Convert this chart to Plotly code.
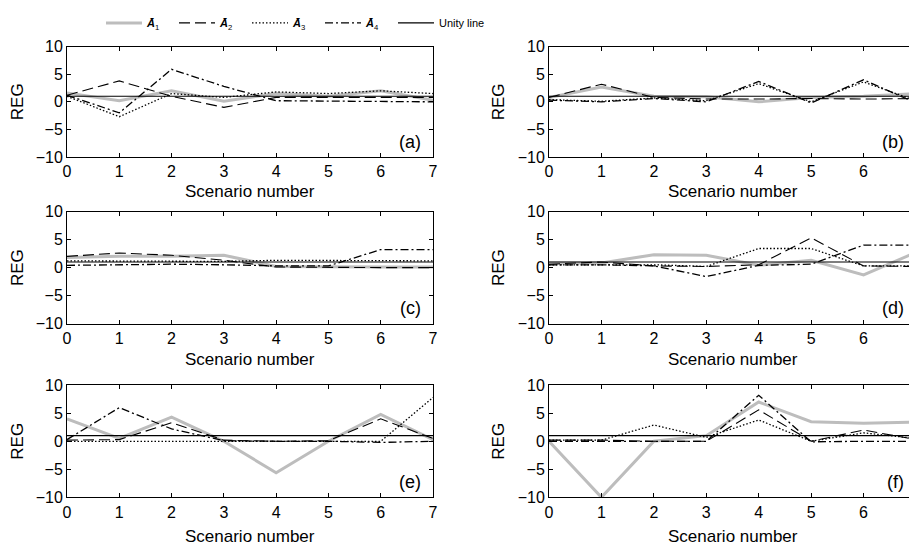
"""
REG per scenario for four estimators (A1..A4) against a unity line,
six panels (a)-(f) laid out 3 rows x 2 columns.
"""

import plotly.graph_objects as go
from plotly.subplots import make_subplots

scenarios = [0, 1, 2, 3, 4, 5, 6, 7]
x_ticks = [0, 1, 2, 3, 4, 5, 6, 7]
y_ticks = [-10, -5, 0, 5, 10]
unity = [1, 1, 1, 1, 1, 1, 1, 1]

panel_labels = ["(a)", "(b)", "(c)", "(d)", "(e)", "(f)"]
x_title = "Scenario number"
y_title = "REG"
series_names = [
    "<b><i>Ā</i></b><sub>1</sub>",
    "<b><i>Ā</i></b><sub>2</sub>",
    "<b><i>Ā</i></b><sub>3</sub>",
    "<b><i>Ā</i></b><sub>4</sub>",
    "Unity line",
]

# values, one list per series per panel
a_A1 = [1.6, 0.2, 2.0, 0.1, 1.5, 1.0, 2.0, 0.3]
a_A2 = [1.2, 3.8, 1.0, -1.0, 0.8, 0.8, 0.9, 0.8]
a_A3 = [1.0, -2.7, 1.5, 0.8, 1.8, 1.5, 2.0, 1.5]
a_A4 = [1.2, -2.0, 5.9, 2.8, 0.2, 0.1, 0.1, 0.0]

b_A1 = [0.8, 2.7, 1.0, 0.9, 0.0, 0.8, 1.0, 1.5]
b_A2 = [0.8, 3.2, 0.8, 0.5, 0.5, 0.6, 0.5, 0.6]
b_A3 = [0.4, 0.1, 0.7, 0.2, 3.3, 0.0, 3.6, 0.2]
b_A4 = [0.3, 0.0, 0.6, 0.0, 3.7, -0.2, 4.0, -0.2]

c_A1 = [1.8, 2.0, 2.0, 2.2, 0.2, 0.1, 0.1, 0.1]
c_A2 = [2.0, 2.6, 2.2, 1.3, 0.1, 0.0, 0.0, 0.0]
c_A3 = [1.2, 1.2, 1.2, 1.1, 1.3, 1.3, 1.3, 1.2]
c_A4 = [0.4, 0.5, 0.6, 0.5, 0.3, 0.3, 3.2, 3.2]

d_A1 = [0.8, 0.8, 2.3, 2.2, 0.4, 1.3, -1.3, 2.7]
d_A2 = [0.6, 1.0, 0.3, 0.2, 0.5, 5.3, 0.3, 0.2]
d_A3 = [0.5, 0.5, 0.5, 0.2, 3.4, 3.4, 0.3, 0.3]
d_A4 = [0.5, 0.5, 0.3, -1.6, 0.4, 0.6, 4.0, 4.0]

e_A1 = [4.0, 0.5, 4.3, 0.0, -5.6, 0.0, 4.8, 0.3]
e_A2 = [0.2, 0.3, 3.3, 0.2, 0.0, 0.1, 4.0, 0.5]
e_A3 = [0.0, 0.0, 0.0, 0.0, 0.0, 0.0, 0.0, 7.8]
e_A4 = [0.3, 6.0, 2.2, 0.1, 0.0, 0.0, -0.2, 0.0]

f_A1 = [0.0, -10.0, 0.0, 1.0, 7.0, 3.5, 3.2, 3.4]
f_A2 = [0.2, 0.2, 0.0, 0.0, 5.6, 0.0, 2.0, 0.3]
f_A3 = [0.2, 0.2, 2.9, 0.7, 3.8, 0.0, 1.5, 0.5]
f_A4 = [0.0, 0.0, 0.0, 0.0, 8.2, -0.1, 0.0, 0.0]

panels = [
    [a_A1, a_A2, a_A3, a_A4, unity],
    [b_A1, b_A2, b_A3, b_A4, unity],
    [c_A1, c_A2, c_A3, c_A4, unity],
    [d_A1, d_A2, d_A3, d_A4, unity],
    [e_A1, e_A2, e_A3, e_A4, unity],
    [f_A1, f_A2, f_A3, f_A4, unity],
]

# line styles in series order: A1 grey thick, A2 dashed, A3 dotted, A4 dash-dot, unity solid
line_styles = [
    dict(color="#bdbdbd", width=3, dash="solid"),
    dict(color="black", width=1.1, dash="11px,5px"),
    dict(color="black", width=1.3, dash="1.5px,2px"),
    dict(color="black", width=1.3, dash="8px,3px,2px,3px"),
    dict(color="black", width=1.1, dash="solid"),
]

FONT = "Liberation Sans, Arial, sans-serif"

# the page body has an 8px margin, so the figure is drawn 8px in from the
# top-left corner; size it to fill the rest of the 917x545 window
OFFSET = 8
W, H = 917 - OFFSET, 545 - OFFSET


def px_x(screen_x):
    return (screen_x - OFFSET) / W


def px_y(screen_y):
    return 1 - (screen_y - OFFSET) / H


fig = make_subplots(rows=3, cols=2)

for i, series in enumerate(panels):
    row, col = i // 2 + 1, i % 2 + 1
    for j, values in enumerate(series):
        fig.add_trace(
            go.Scatter(
                x=scenarios,
                y=values,
                mode="lines",
                name=series_names[j],
                legendgroup=series_names[j],
                showlegend=(i == 0),
                line=line_styles[j],
            ),
            row=row,
            col=col,
        )

# empty entry at the end so the last legend label is not clipped
fig.add_trace(
    go.Scatter(x=[None], y=[None], mode="lines", name=" ",
               line=dict(color="rgba(0,0,0,0)", width=0), hoverinfo="skip"),
    row=1, col=1,
)

# hand-placed domains (screen pixels of the original frame edges)
x_domains = [[px_x(67), px_x(433)], [px_x(549), px_x(916)]]
y_domains = [[px_y(154), px_y(43)], [px_y(322), px_y(209)], [px_y(497), px_y(384)]]
# x titles drawn as annotations: plotly pins the bottom-row title inside the paper
x_title_shift = [-35, -36, -39]

for i in range(6):
    row, col = i // 2 + 1, i % 2 + 1
    fig.update_xaxes(domain=x_domains[col - 1], row=row, col=col)
    fig.update_yaxes(domain=y_domains[row - 1], row=row, col=col)
    suffix = str(i + 1) if i else ""
    fig.add_annotation(
        text=panel_labels[i],
        xref=f"x{suffix} domain",
        yref=f"y{suffix} domain",
        x=0.972,
        y=0.03,
        xanchor="right",
        yanchor="bottom",
        showarrow=False,
        font=dict(family=FONT, size=18, color="black"),
    )
    fig.add_annotation(
        text=x_title,
        xref=f"x{suffix} domain",
        yref=f"y{suffix} domain",
        x=0.5,
        y=0,
        yshift=x_title_shift[row - 1],
        xanchor="center",
        yanchor="middle",
        showarrow=False,
        font=dict(family=FONT, size=17, color="black"),
    )

axis_common = dict(
    automargin=False,
    showline=True,
    linecolor="black",
    linewidth=1,
    mirror="ticks",
    ticks="inside",
    ticklen=4,
    tickcolor="black",
    showgrid=False,
    zeroline=False,
    ticklabeloverflow="allow",
    tickfont=dict(family=FONT, size=16, color="black"),
)

fig.update_xaxes(range=[0, 7], tickvals=x_ticks, **axis_common)
fig.update_yaxes(
    range=[-10, 10],
    tickvals=y_ticks,
    title=dict(text=y_title, font=dict(family=FONT, size=17, color="black"), standoff=8),
    **axis_common,
)

fig.update_layout(
    width=W,
    height=H,
    margin=dict(l=0, r=0, t=0, b=0),
    paper_bgcolor="white",
    plot_bgcolor="white",
    font=dict(family=FONT, color="black"),
    legend=dict(
        orientation="h",
        x=px_x(101),
        y=px_y(19),
        xanchor="left",
        yanchor="middle",
        font=dict(family=FONT, size=11, color="black"),
        itemwidth=36,
        entrywidth=22,
        bgcolor="rgba(0,0,0,0)",
    ),
)

fig.write_html("out.html")
